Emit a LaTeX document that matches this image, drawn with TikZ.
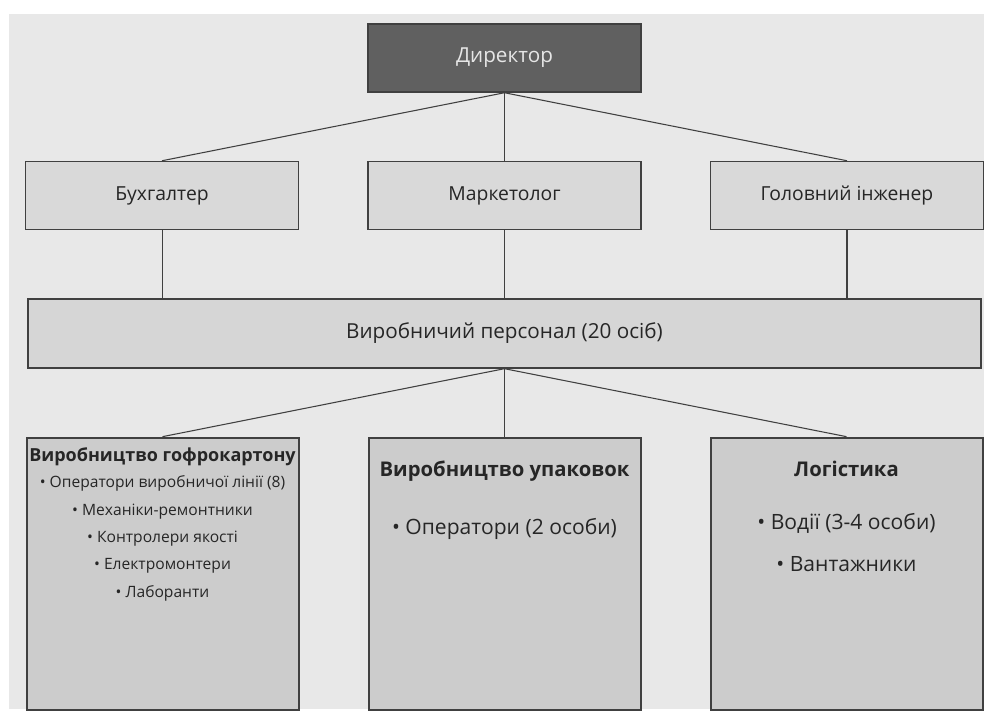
\documentclass[tikz,border=0pt]{standalone}
\usepackage{fontspec}
\setmainfont{Open Sans}
\usepackage{xcolor}
\usepackage{tikz}
\usetikzlibrary{positioning}
\definecolor{bggray}{HTML}{E8E8E8}
\definecolor{headgray}{HTML}{606060}
\definecolor{headtext}{HTML}{E6E6E6}
\definecolor{rowgray}{HTML}{D9D9D9}
\definecolor{widegray}{HTML}{D6D6D6}
\definecolor{deptgray}{HTML}{CCCCCC}
\definecolor{bordergray}{HTML}{404040}
\definecolor{textgray}{HTML}{262626}
\tikzset{org-line/.style={line width=0.8pt, draw=bordergray}}
\tikzset{org-node/.style={draw=bordergray, line width=1.1pt, inner sep=0, minimum width=204.75pt, minimum height=51pt, fill=rowgray, text=textgray, font=\fontsize{14.5}{17}\selectfont}}
\tikzset{org-head/.style={org-node, fill=headgray, text=headtext, font=\fontsize{15.5}{18}\selectfont}}
\tikzset{org-wide/.style={org-node, minimum width=714.75pt, minimum height=51.75pt, fill=widegray, font=\fontsize{15.5}{18}\selectfont}}
\tikzset{org-dept/.style={org-node, minimum width=204pt, minimum height=204pt, fill=deptgray, line width=1.5pt}}
\tikzset{org-title/.style={inner sep=0, text=textgray, font=\bfseries\fontsize{15.2}{18}\selectfont}}
\tikzset{org-list/.style={inner sep=0, align=center, text=textgray, font=\fontsize{15.8}{32}\selectfont}}

\begin{document}
\begin{tikzpicture}[x=0.75pt, y=-0.75pt]
            \useasboundingbox (0,0) rectangle (984,711);
            \fill[bggray] (9,14) rectangle (984,709);

            \node[org-head] at (504.5,58) (node1) {Директор};

            \node[org-node, below=51pt of node1] (node3) {Маркетолог};
            \node[org-node, left=51pt of node3] (node2) {Бухгалтер};
            \node[org-node, right=51pt of node3] (node4) {Головний інженер};

            \node[org-wide, below=51pt of node3] (node5) {Виробничий персонал (20 осіб)};

            \node[org-dept, below=51pt of node5] (node7) {};
            \node[org-dept, left=51pt of node7] (node6) {};
            \node[org-dept, right=51pt of node7] (node8) {};

            \draw[org-line] (node1.south) -- (node2.north);
            \draw[org-line] (node1.south) -- (node3.north);
            \draw[org-line] (node1.south) -- (node4.north);

            \draw[org-line] (node2) -- (node2 |- node5.north);
            \draw[org-line] (node3) -- (node5);
            \draw[org-line] (node4) -- (node4 |- node5.north);

            \draw[org-line] (node5.south) -- (node6.north);
            \draw[org-line] (node5.south) -- (node7.north);
            \draw[org-line] (node5.south) -- (node8.north);

            % department contents
            \node[org-title, font=\bfseries\fontsize{13.5}{16}\selectfont, below=8pt of node6.north] (title6) {Виробництво гофрокартону};
            \node[org-list, font=\fontsize{11.7}{20.6}\selectfont, below=7pt of title6] (list6) {• Оператори виробничої лінії (8)\\ • Механіки-ремонтники\\ • Контролери якості\\ • Електромонтери\\ • Лаборанти};

            \node[org-title, below=18pt of node7.north] (title7) {Виробництво упаковок};
            \node[org-list, below=27pt of title7] (list7) {• Оператори (2 особи)};

            \node[org-title, below=18pt of node8.north] (title8) {Логістика};
            \node[org-list, below=27pt of title8] (list8) {• Водії (3-4 особи)\\ • Вантажники};

        \end{tikzpicture}
\end{document}
